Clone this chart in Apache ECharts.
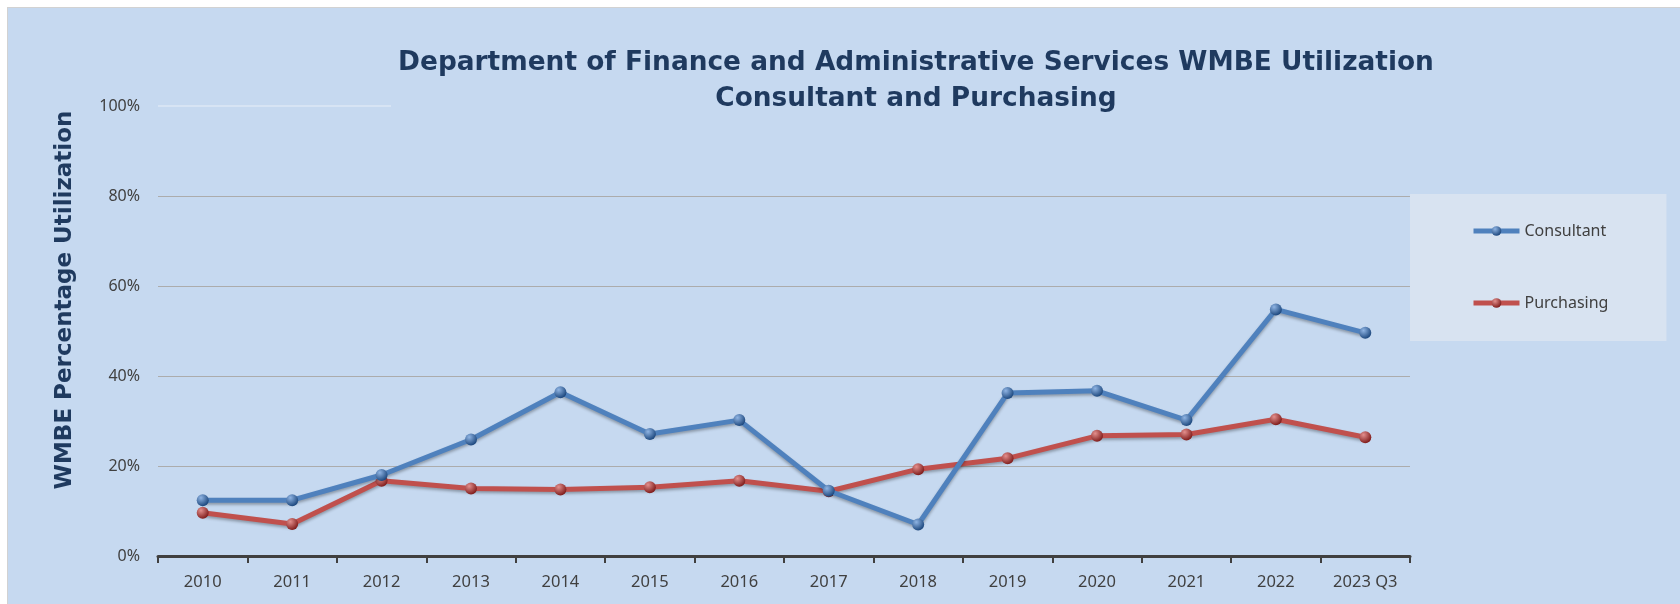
<!DOCTYPE html>
<html>
<head>
<meta charset="utf-8">
<script src="https://cdn.jsdelivr.net/npm/echarts@6/dist/echarts.min.js"></script>
<style>
  html, body { margin: 0; padding: 0; background: #fff; }
  #frame { position: absolute; left: 7px; top: 7px; border-left: 1px solid #d2d2d2; border-top: 1px solid #d2d2d2; }
  #chart { width: 1672px; height: 596px; background: #c6d9f0; }
</style>
</head>
<body>
<div id="frame"><div id="chart"></div></div>
<script>
// categories and values (percent)
var years = ["2010", "2011", "2012", "2013", "2014", "2015", "2016", "2017", "2018", "2019", "2020", "2021", "2022", "2023 Q3"];
var consultant = [12.4, 12.4, 18.0, 25.9, 36.4, 27.1, 30.2, 14.5, 7.0, 36.2, 36.7, 30.2, 54.8, 49.6];
var purchasing = [9.6, 7.1, 16.7, 15.0, 14.8, 15.3, 16.7, 14.4, 19.3, 21.7, 26.7, 27.0, 30.4, 26.4];

var chart = echarts.init(document.getElementById("chart"));

function ball(light, dark) {
  return new echarts.graphic.RadialGradient(0.35, 0.3, 0.7, [
    { offset: 0, color: light },
    { offset: 1, color: dark },
  ]);
}

chart.setOption({
  animation: false,
  textStyle: { fontFamily: "Noto Sans" },
  title: {
    text: "Department of Finance and Administrative Services WMBE Utilization\nConsultant and Purchasing",
    left: 903,
    top: 32,
    textAlign: "center",
    textStyle: {
      fontFamily: "DejaVu Sans",
      fontWeight: "bold",
      fontSize: 26.4,
      lineHeight: 36,
      color: "#1f3a5f",
    },
  },
  legend: {
    orient: "vertical",
    left: 1402,
    top: 186,
    padding: [29, 58, 30, 61],
    itemGap: 56,
    itemWidth: 46,
    itemHeight: 12,
    backgroundColor: "#d8e3f1",
    lineStyle: { width: 5 },
    textStyle: { fontSize: 16, color: "#404040" },
    data: ["Consultant", "Purchasing"],
  },
  grid: { left: 150, right: 270, top: 98, bottom: 48 },
  xAxis: {
    type: "category",
    data: years,
    axisLine: { lineStyle: { color: "#404040", width: 3 } },
    axisTick: { show: true, length: 7, lineStyle: { color: "#404040", width: 2 } },
    axisLabel: { color: "#404040", fontSize: 16.5, margin: 18 },
  },
  yAxis: {
    type: "value",
    min: 0,
    max: 100,
    interval: 20,
    axisLine: { show: false },
    axisTick: { show: false },
    axisLabel: { formatter: "{value}%", color: "#404040", fontSize: 16, margin: 18 },
    splitLine: {
      lineStyle: {
        color: ["#acacac", "#acacac", "#acacac", "#acacac", "#acacac", "rgba(0,0,0,0)"],
        width: 1,
      },
    },
  },
  graphic: [
    {
      type: "text",
      x: 57,
      y: 292,
      rotation: Math.PI / 2,
      style: {
        text: "WMBE Percentage Utilization",
        fill: "#1f3a5f",
        font: "bold 23px 'DejaVu Sans'",
        align: "center",
        verticalAlign: "middle",
      },
    },
    {
      // faint leftover line at the top of the plot
      type: "line",
      shape: { x1: 150, y1: 98, x2: 383, y2: 98 },
      style: { stroke: "rgba(255,255,255,0.6)", lineWidth: 1 },
    },
  ],
  series: [
    {
      name: "Consultant",
      type: "line",
      data: consultant,
      symbol: "circle",
      symbolSize: 12,
      lineStyle: {
        color: "#4f81bd",
        width: 5,
        shadowColor: "rgba(0,0,0,0.3)",
        shadowBlur: 3,
        shadowOffsetY: 2,
      },
      itemStyle: { color: ball("#8fb4e3", "#1f4a80"), borderWidth: 0 },
      z: 3,
    },
    {
      name: "Purchasing",
      type: "line",
      data: purchasing,
      symbol: "circle",
      symbolSize: 12,
      lineStyle: {
        color: "#c0504d",
        width: 5,
        shadowColor: "rgba(0,0,0,0.3)",
        shadowBlur: 3,
        shadowOffsetY: 2,
      },
      itemStyle: { color: ball("#e38f8d", "#821f1e"), borderWidth: 0 },
      z: 2,
    },
  ],
});
</script>
</body>
</html>
